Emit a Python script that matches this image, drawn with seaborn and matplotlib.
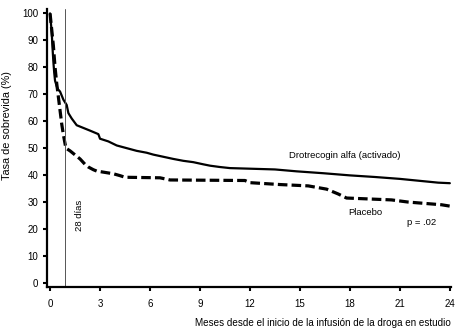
import matplotlib
matplotlib.use("Agg")
import matplotlib.pyplot as plt
import seaborn as sns
import pandas as pd

# Drotrecogin alfa (activado) - survival (%) by months
drot_months = [0, 0.1, 0.15, 0.2, 0.25, 0.3, 0.45, 0.6, 0.8, 1.0, 1.1, 1.3, 1.6, 2.0, 2.4, 2.9, 3.0,
               3.5, 4.0, 4.6, 5.2, 5.8, 6.2, 6.8, 7.4, 8.0, 8.6, 9.2, 9.6, 10.2, 10.8, 13.5, 14.8,
               16.4, 18.0, 19.5, 21.0, 23.3, 24.0]
drot_values = [100, 93, 87, 82, 78, 75, 72, 71, 68, 66, 63, 61, 58.5, 57.5, 56.5, 55.2, 53.5,
               52.5, 51, 50, 49, 48.3, 47.6, 46.8, 46, 45.3, 44.8, 44, 43.5, 43, 42.6, 42.1, 41.4,
               40.7, 39.9, 39.3, 38.6, 37.2, 37.0]

# Placebo
plac_months = [0, 0.1, 0.2, 0.3, 0.4, 0.5, 0.6, 0.7, 0.8, 0.95, 1.2, 1.5, 1.8, 2.1, 2.3, 2.6, 2.8,
               3.3, 3.8, 4.2, 4.5, 6.6, 7.2, 11.7, 12.0, 13.8, 15.5, 16.6, 17.3, 17.8, 20.5, 21.5,
               23.5, 24.0]
plac_values = [100, 94, 88, 80, 74, 69, 64, 59, 55, 50, 49, 47.5, 46, 44, 43, 42, 41.5,
               41, 40.5, 39.8, 39.2, 39, 38.2, 38, 37.2, 36.5, 36, 34.8, 33, 31.5, 30.8, 30,
               29, 28.5]

x_ticks = [0, 3, 6, 9, 12, 15, 18, 21, 24]
y_ticks = [0, 10, 20, 30, 40, 50, 60, 70, 80, 90, 100]

sns.set_theme(style="white")
plt.rcParams["font.family"] = ["Liberation Sans", "DejaVu Sans"]

fig = plt.figure(figsize=(4.58, 3.29), dpi=100)
ax = fig.add_axes([0.102, 0.1277, 0.882, 0.844])

df_d = pd.DataFrame({"m": drot_months, "v": drot_values})
df_p = pd.DataFrame({"m": plac_months, "v": plac_values})

sns.lineplot(data=df_d, x="m", y="v", ax=ax, color="black", linewidth=1.6,
             estimator=None, sort=False)
sns.lineplot(data=df_p, x="m", y="v", ax=ax, color="black", linewidth=2.3,
             estimator=None, sort=False)
ax.lines[-1].set_dashes((3, 1.3))

ax.axvline(0.92, color="#555555", linewidth=0.7)

ax.set_xlim(-0.2, 24.05)
ax.set_ylim(-1.5, 101.5)
ax.set_xticks(x_ticks)
ax.set_yticks(y_ticks)
ax.set_xticklabels([str(t) for t in x_ticks])
ax.set_yticklabels([str(t) for t in y_ticks])

for s in ["top", "right"]:
    ax.spines[s].set_visible(False)
for s in ["left", "bottom"]:
    ax.spines[s].set_color("black")
    ax.spines[s].set_linewidth(1.6)

ax.tick_params(axis="both", direction="out", length=3, width=1.5, color="black",
               labelsize=7, labelcolor="black", bottom=True, left=True)
ax.tick_params(axis="x", pad=6)
ax.tick_params(axis="y", pad=3)

ax.set_xlabel("Meses desde el inicio de la infusión de la droga en estudio",
              fontsize=7.1, loc="right", color="black", labelpad=6)
ax.set_ylabel("Tasa de sobrevida (%)", fontsize=7.8, color="black")
ax.yaxis.set_label_coords(-0.085, 0.58)

ax.text(17.7, 47.2, "Drotrecogin alfa (activado)", fontsize=6.8, ha="center", va="center", color="black")
ax.text(18.9, 26.2, "Placebo", fontsize=6.8, ha="center", va="center", color="black")
ax.text(22.3, 22.5, "p = .02", fontsize=6.8, ha="center", va="center", color="black")
ax.text(1.74, 25, "28 días", fontsize=6.8, ha="center", va="center", rotation=90, color="black")

ax.grid(False)
fig.savefig("out.png", dpi=100)
